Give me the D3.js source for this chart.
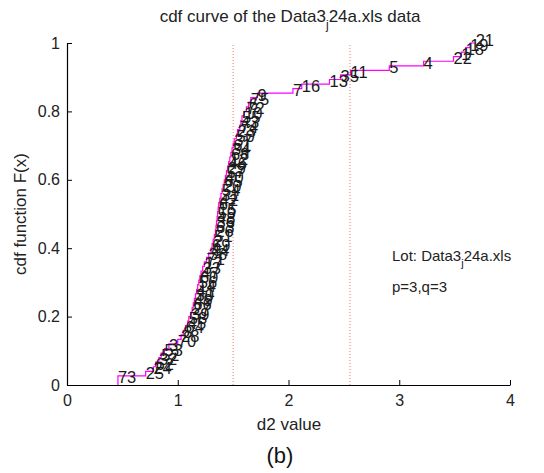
<!DOCTYPE html>
<html>
<head>
<meta charset="utf-8">
<script src="https://cdn.jsdelivr.net/npm/d3@7"></script>
<style>
  body { margin: 0; background: #fff; }
  svg { display: block; }
  text { font-family: "Liberation Sans", Arial, sans-serif; }
</style>
</head>
<body>
<svg id="chart" width="544" height="473"></svg>
<script>
// Sorted d2 values (x positions of the cdf steps)
const d2Values = [
  0.46, 0.71, 0.78, 0.80, 0.83, 0.85, 0.88, 0.92, 1.00, 1.03,
  1.05, 1.07, 1.09, 1.10, 1.12, 1.13, 1.14, 1.15, 1.16, 1.17,
  1.18, 1.19, 1.20, 1.21, 1.225, 1.24, 1.26, 1.28, 1.30, 1.31,
  1.32, 1.33, 1.34, 1.345, 1.35, 1.355, 1.36, 1.365, 1.37, 1.38,
  1.39, 1.40, 1.41, 1.42, 1.43, 1.44, 1.45, 1.46, 1.47, 1.48,
  1.49, 1.50, 1.51, 1.53, 1.54, 1.56, 1.57, 1.58, 1.60, 1.62,
  1.64, 1.66, 1.72, 2.04, 2.12, 2.37, 2.47, 2.56, 2.91, 3.22,
  3.49, 3.56, 3.60, 3.64, 3.69
];
// Sample index label for each sorted point
const sampleLabels = [
  73, 25, 24, 62, 32, 52, 53, 3, 70, 28,
  8, 64, 45, 58, 39, 27, 66, 49, 30, 41,
  14, 56, 60, 47, 33, 17, 71, 38, 44, 69,
  2, 51, 26, 63, 36, 48, 59, 15, 67, 42,
  31, 54, 20, 65, 40, 57, 29, 46, 12, 68,
  34, 61, 37, 50, 23, 74, 43, 55, 10, 72,
  6, 75, 9, 7, 16, 13, 35, 11, 5, 4,
  22, 1, 18, 19, 21
];
const limitLines = [1.5, 2.555];
const xTicks = [0, 1, 2, 3, 4];
const yTicks = [0, 0.2, 0.4, 0.6, 0.8, 1];

const svg = d3.select("#chart");
const margin = {left: 67, right: 34, top: 43, bottom: 88};
const W = 544, H = 473;
const x = d3.scaleLinear().domain([0, 4]).range([margin.left, W - margin.right]);
const y = d3.scaleLinear().domain([0, 1]).range([H - margin.bottom, margin.top]);

const n = d2Values.length;
const pts = d2Values.map((v, i) => ({x: v, F: (i + 1) / n, label: sampleLabels[i]}));

// limit lines
svg.selectAll("line.lim").data(limitLines).enter().append("line")
  .attr("class", "lim")
  .attr("x1", d => x(d)).attr("x2", d => x(d))
  .attr("y1", y(0)).attr("y2", y(1))
  .attr("stroke", "#ff7070").attr("stroke-width", 1)
  .attr("stroke-dasharray", "1,2");

// staircase
const stairPts = [{x: pts[0].x, F: 0}].concat(pts);
const line = d3.line().x(d => x(d.x)).y(d => y(d.F)).curve(d3.curveStepBefore);
svg.append("path").datum(stairPts)
  .attr("d", line)
  .attr("fill", "none").attr("stroke", "#ff00ff").attr("stroke-width", 1.2);

// labels
svg.selectAll("text.pl").data(pts).enter().append("text")
  .attr("class", "pl")
  .attr("x", d => x(d.x)).attr("y", d => y(d.F))
  .attr("dy", "0.18em")
  .attr("font-size", 16.5)
  .attr("fill", "#1a1a1a")
  .text(d => d.label);

// axes
const xAxis = d3.axisBottom(x).tickValues(xTicks).tickSize(-5).tickSizeOuter(0).tickPadding(10).tickFormat(d3.format("d"));
const yAxis = d3.axisLeft(y).tickValues(yTicks).tickSize(-5).tickSizeOuter(0).tickPadding(7).tickFormat(d => d === 0 || d === 1 ? String(d) : d3.format(".1f")(d));
const gx = svg.append("g").attr("transform", `translate(0,${y(0)})`).call(xAxis);
const gy = svg.append("g").attr("transform", `translate(${x(0)},0)`).call(yAxis);
[gx, gy].forEach(g => {
  g.select(".domain").attr("stroke", "#000").attr("stroke-width", 1.2);
  g.selectAll(".tick line").attr("stroke", "#000");
  g.selectAll(".tick text").attr("font-size", 16).attr("fill", "#222")
    .attr("font-family", "'Liberation Sans', Arial, sans-serif");
});
gx.selectAll(".tick text").attr("dy", "0.71em");

// title with subscript j
const title = svg.append("text").attr("x", 290).attr("y", 22)
  .attr("text-anchor", "middle").attr("font-size", 17).attr("fill", "#222");
title.append("tspan").text("cdf curve of the Data3");
title.append("tspan").attr("font-size", 12).attr("dy", 7).text("j");
title.append("tspan").attr("dy", -7).text("24a.xls data");

// axis labels
svg.append("text").attr("x", 289).attr("y", 430).attr("text-anchor", "middle")
  .attr("font-size", 17).attr("fill", "#222").text("d2 value");
svg.append("text").attr("transform", `translate(26,${(y(0) + y(1)) / 2}) rotate(-90)`)
  .attr("text-anchor", "middle").attr("font-size", 17).attr("fill", "#222")
  .text("cdf function F(x)");

// annotation
const lot = svg.append("text").attr("x", 392).attr("y", 261).attr("font-size", 15).attr("fill", "#222");
lot.append("tspan").text("Lot: Data3");
lot.append("tspan").attr("font-size", 11).attr("dy", 6).text("j");
lot.append("tspan").attr("dy", -6).text("24a.xls");
svg.append("text").attr("x", 392).attr("y", 292).attr("font-size", 15).attr("fill", "#222").text("p=3,q=3");

// caption
svg.append("text").attr("x", 280).attr("y", 463).attr("text-anchor", "middle")
  .attr("font-family", "'Liberation Serif', 'Times New Roman', serif")
  .attr("font-size", 22).attr("fill", "#111").text("(b)");
</script>
</body>
</html>
